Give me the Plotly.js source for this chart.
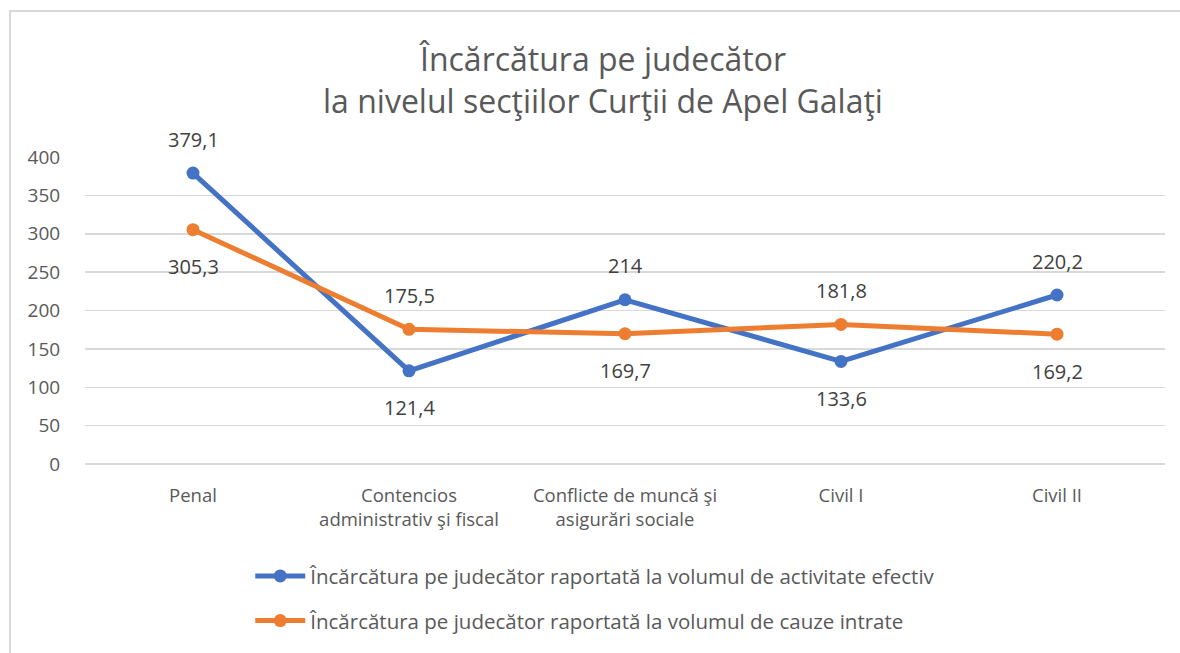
<!DOCTYPE html>
<html>
<head>
<meta charset="utf-8">
<script src="https://cdn.plot.ly/plotly-3.0.1.min.js"></script>
<style>
  html, body { margin: 0; padding: 0; background: #ffffff; }
  #wrap { position: relative; width: 1180px; height: 653px; overflow: hidden; }
  #chart { position: absolute; left: 0; top: 0; width: 1180px; height: 653px; }
  #frame { position: absolute; left: 9px; top: 10px; width: 1200px; height: 700px;
           border-left: 2px solid #d9d9d9; border-top: 2px solid #d9d9d9; pointer-events: none; }
</style>
</head>
<body>
<div id="wrap">
  <div id="chart"></div>
  <div id="frame"></div>
</div>
<script>
const categories = ["Penal", "Contencios<br>administrativ şi fiscal", "Conflicte de muncă şi<br>asigurări sociale", "Civil I", "Civil II"];
const seriesNames = [
  "Încărcătura pe judecător raportată la volumul de activitate efectiv",
  "Încărcătura pe judecător raportată la volumul de cauze intrate"
];
const activitateEfectiv = [379.1, 121.4, 214, 133.6, 220.2];
const cauzeIntrate = [305.3, 175.5, 169.7, 181.8, 169.2];
const labelSideEfectiv = ["above", "below", "above", "below", "above"];
const labelSideIntrate = ["below", "above", "below", "above", "below"];
const yTicks = [0, 50, 100, 150, 200, 250, 300, 350, 400];

const colors = ["#4472C4", "#ED7D31"];
const fontFam = "'Open Sans', 'Noto Sans', sans-serif";

function fmt(v) { return String(v).replace('.', ','); }

const traces = [activitateEfectiv, cauzeIntrate].map((vals, i) => ({
  type: 'scatter',
  mode: 'lines+markers',
  x: categories,
  y: vals,
  name: seriesNames[i],
  legendgroup: 'g' + i,
  line: { color: colors[i], width: 5 },
  marker: { color: colors[i], size: 13 },
  hoverinfo: 'none'
}));

const annotations = [];
[[activitateEfectiv, labelSideEfectiv], [cauzeIntrate, labelSideIntrate]].forEach(([vals, sides]) => {
  vals.forEach((v, j) => {
    annotations.push({
      x: categories[j], y: v, xref: 'x', yref: 'y',
      text: fmt(v), showarrow: false,
      yshift: sides[j] === 'above' ? 34 : -37,
      font: { family: fontFam, size: 20, color: '#404040' }
    });
  });
});

const layout = {
  width: 1180, height: 653,
  paper_bgcolor: '#ffffff', plot_bgcolor: '#ffffff',
  margin: { l: 85, r: 15, t: 157, b: 187 },
  font: { family: fontFam, color: '#595959' },
  title: {
    text: "Încărcătura pe judecător<br>la nivelul secţiilor Curţii de Apel Galaţi",
    xref: 'container', yref: 'container', x: 0.511, y: 0.891,
    xanchor: 'center', yanchor: 'middle',
    font: { family: fontFam, size: 32, color: '#595959' }
  },
  xaxis: {
    type: 'category',
    showgrid: false, zeroline: false, showline: false,
    ticks: 'outside', ticklen: 15, tickcolor: 'rgba(0,0,0,0)',
    tickfont: { family: fontFam, size: 18.5, color: '#595959' },
    tickangle: 0,
    range: [-0.5, 4.5]
  },
  yaxis: {
    range: [0, 400],
    tickvals: yTicks,
    ticktext: yTicks.map(String),
    showgrid: true, gridcolor: '#d9d9d9', gridwidth: 1.5,
    zeroline: true, zerolinecolor: '#d9d9d9', zerolinewidth: 1.5,
    showline: false,
    ticks: 'outside', ticklen: 20, tickcolor: 'rgba(0,0,0,0)',
    tickfont: { family: fontFam, size: 19, color: '#595959' }
  },
  showlegend: true,
  legend: {
    orientation: 'v',
    x: 0.153, xanchor: 'left',
    y: -0.3, yanchor: 'top',
    itemwidth: 50,
    font: { family: fontFam, size: 20.5, color: '#595959' },
    tracegroupgap: 15,
    bgcolor: 'rgba(0,0,0,0)'
  },
  annotations: annotations
};

Plotly.newPlot('chart', traces, layout, { staticPlot: true, displayModeBar: false });
</script>
</body>
</html>
